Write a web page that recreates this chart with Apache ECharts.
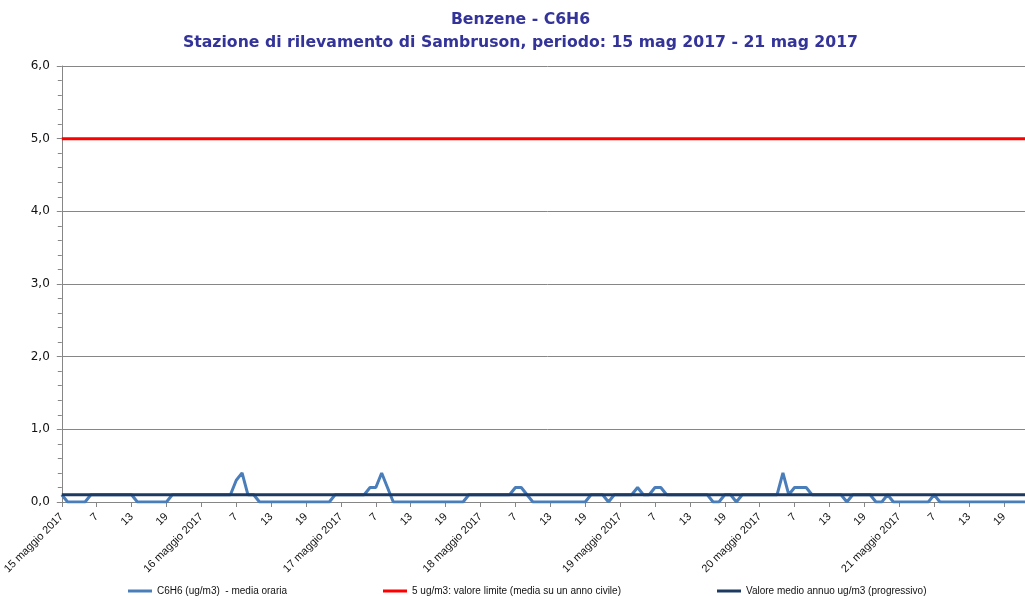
<!DOCTYPE html>
<html>
<head>
<meta charset="utf-8">
<script src="https://cdn.jsdelivr.net/npm/echarts@6/dist/echarts.min.js"></script>
<style>
html,body{margin:0;padding:0;overflow:hidden;background:#fff;width:1025px;height:596px;}
#chart{width:1041px;height:596px;}
</style>
</head>
<body>
<div id="chart"></div>
<script>
// ---- data ----
const days = ['15 maggio 2017','16 maggio 2017','17 maggio 2017','18 maggio 2017','19 maggio 2017','20 maggio 2017','21 maggio 2017'];
const hourLabels = ['', '2','3','4','5','6','7','8','9','10','11','12','13','14','15','16','17','18','19','20','21','22','23','24'];
const day1 = [0.1,0,0,0,0,0.1,0.1,0.1,0.1,0.1,0.1,0.1,0.1,0,0,0,0,0,0,0.1,0.1,0.1,0.1,0.1];
const day2 = [0.1,0.1,0.1,0.1,0.1,0.1,0.3,0.4,0.1,0.1,0,0,0,0,0,0,0,0,0,0,0,0,0,0.1];
const day3 = [0.1,0.1,0.1,0.1,0.1,0.2,0.2,0.4,0.2,0,0,0,0,0,0,0,0,0,0,0,0,0,0.1,0.1];
const day4 = [0.1,0.1,0.1,0.1,0.1,0.1,0.2,0.2,0.1,0,0,0,0,0,0,0,0,0,0,0.1,0.1,0.1,0,0.1];
const day5 = [0.1,0.1,0.1,0.2,0.1,0.1,0.2,0.2,0.1,0.1,0.1,0.1,0.1,0.1,0.1,0.1,0,0,0.1,0.1,0,0.1,0.1,0.1];
const day6 = [0.1,0.1,0.1,0.1,0.4,0.1,0.2,0.2,0.2,0.1,0.1,0.1,0.1,0.1,0.1,0,0.1,0.1,0.1,0.1,0,0,0.1,0];
const day7 = [0,0,0,0,0,0,0.1,0,0,0,0,0,0,0,0,0,0,0,0,0,0,0,0,0];
const limitValue = 5;        // valore limite
const annualMean = 0.1;      // valore medio annuo (progressivo)
const yTicks = [0,1,2,3,4,5,6];

const seriesNames = ['C6H6 (ug/m3)  - media oraria', '5 ug/m3: valore limite (media su un anno civile)', 'Valore medio annuo ug/m3 (progressivo)'];

// ---- build ----
const categories = [];
days.forEach(d => hourLabels.forEach((h, i) => categories.push(i === 0 ? d : h)));
const hourly = [].concat(day1, day2, day3, day4, day5, day6, day7);
const limitLine = categories.map(() => limitValue);
const meanLine = categories.map(() => annualMean);

const chart = echarts.init(document.getElementById('chart'), null, {renderer: 'canvas'});
const FONT = "'Liberation Sans', Arial, sans-serif";
const legendCommon = {top: 586, itemWidth: 24, itemHeight: 3, icon: 'rect', padding: 0,
  textStyle: {fontFamily: FONT, fontSize: 10, color: '#111'}};
chart.setOption({
  animation: false,
  backgroundColor: '#fff',
  title: {
    text: 'Benzene - C6H6\nStazione di rilevamento di Sambruson, periodo: 15 mag 2017 - 21 mag 2017',
    left: 'center', top: 8, padding: 0,
    textStyle: {fontFamily: "'DejaVu Sans', Verdana, sans-serif", fontWeight: 'bold', fontSize: 15.7, color: '#333399', lineHeight: 23}
  },
  legend: [
    Object.assign({left: 128, data: [seriesNames[0]]}, legendCommon),
    Object.assign({left: 383, data: [seriesNames[1]]}, legendCommon),
    Object.assign({left: 717, data: [seriesNames[2]]}, legendCommon)
  ],
  grid: {left: 61, top: 66, width: 972, height: 436},
  xAxis: {
    type: 'category', data: categories, boundaryGap: false,
    axisLine: {lineStyle: {color: '#868686', width: 1}},
    axisTick: {show: true, interval: 5, length: 5, lineStyle: {color: '#868686'}},
    axisLabel: {interval: 5, rotate: 45, fontFamily: FONT, fontSize: 11, color: '#111', margin: 13},
    splitLine: {show: false}
  },
  yAxis: {
    type: 'value', min: yTicks[0], max: yTicks[yTicks.length - 1], interval: 1,
    axisLine: {show: true, lineStyle: {color: '#868686', width: 1}},
    axisTick: {show: true, length: 5, lineStyle: {color: '#868686'}},
    minorTick: {show: true, splitNumber: 5, length: 4, lineStyle: {color: '#868686'}},
    axisLabel: {fontFamily: "'DejaVu Sans', Verdana, sans-serif", fontSize: 12, color: '#111', margin: 12,
      formatter: v => v.toFixed(1).replace('.', ',')},
    splitLine: {show: true, lineStyle: {color: '#868686', width: 1}}
  },
  series: [
    {name: seriesNames[0], type: 'line', data: hourly, symbol: 'none', lineStyle: {color: '#4a7ebb', width: 3}, itemStyle: {color: '#4a7ebb'}},
    {name: seriesNames[1], type: 'line', data: limitLine, symbol: 'none', lineStyle: {color: '#ff0000', width: 3}, itemStyle: {color: '#ff0000'}},
    {name: seriesNames[2], type: 'line', data: meanLine, symbol: 'none', lineStyle: {color: '#1f3a60', width: 3}, itemStyle: {color: '#1f3a60'}}
  ]
});
</script>
</body>
</html>
